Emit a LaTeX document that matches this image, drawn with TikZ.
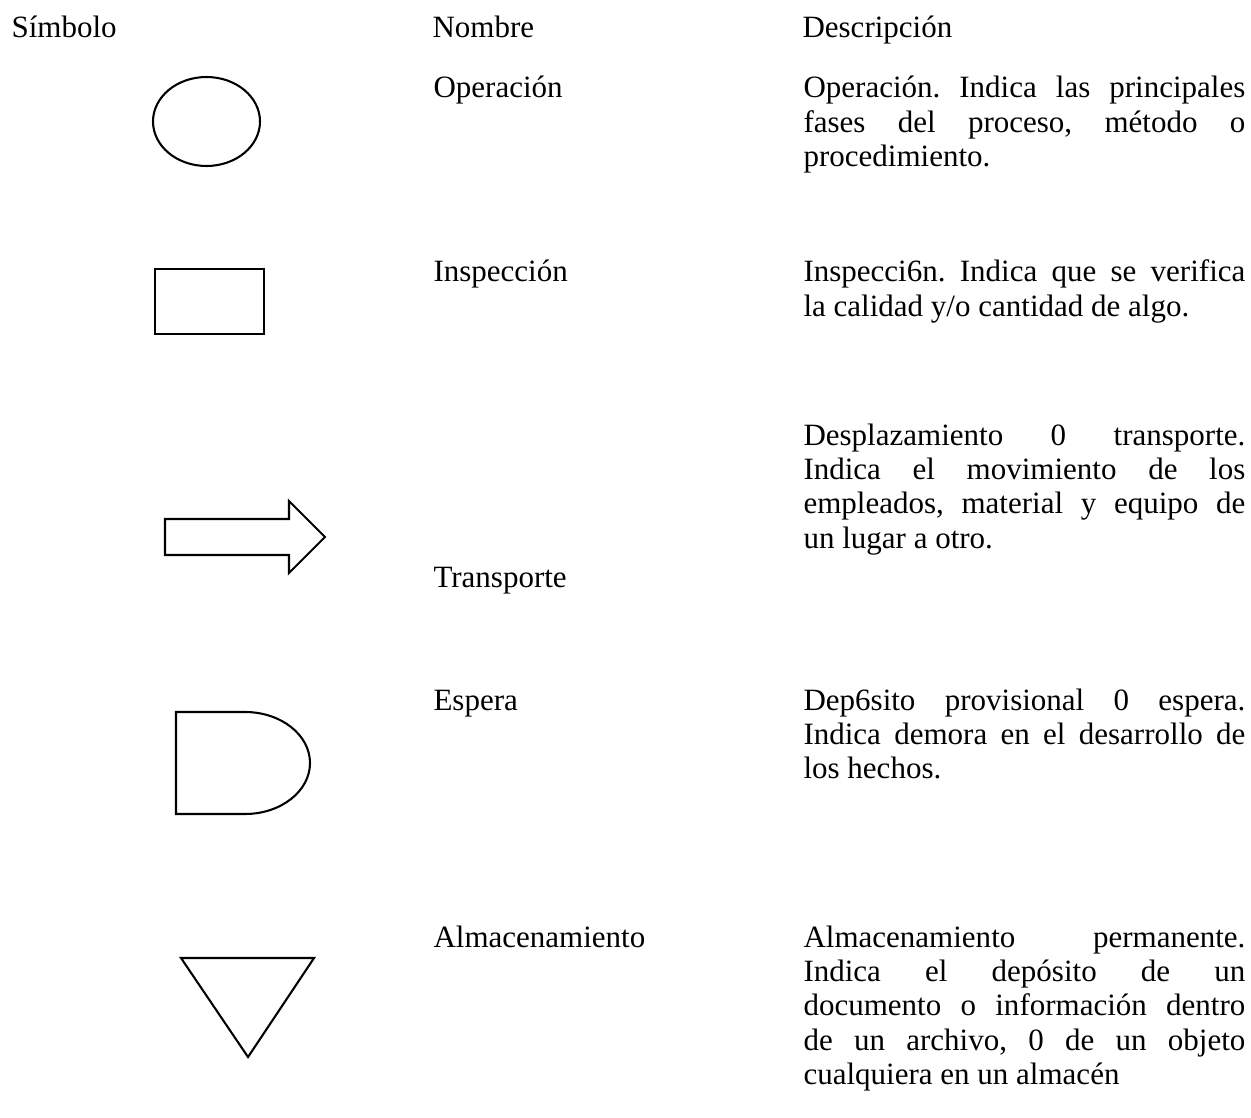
\documentclass[tikz,border=0pt]{standalone}
\usepackage{fontspec}
\setmainfont{Liberation Serif}
\usepackage{tikz}
\tolerance=10000
\hbadness=10000
\frenchspacing

\begin{document}
\begin{tikzpicture}[
  x=0.387pt, y=0.387pt,
  txt/.style={anchor=base west, inner sep=0pt, font=\fontsize{12pt}{13.35pt}\selectfont},
  desc/.style={txt, text width=171pt, align=justify},
  sym/.style={draw, line width=0.8pt}
]
\useasboundingbox (0,0) rectangle (1251,-1118);

% --- Column headers ---
\node[txt] (hsym) at (11,-38) {Símbolo};
\node[txt] (hname) at (432,-38) {Nombre};
\node[txt] (hdesc) at (802,-38) {Descripción};

% --- Operacion ---
\draw[sym] (206.5,-121.5) ellipse [x radius=53.5, y radius=44.5];
\node[txt] (nop) at (433,-98) {Operación};
\node[desc] (dop) at (803,-98) {Operación. Indica las principales\linebreak fases del proceso, método o\linebreak procedimiento.};

% --- Inspeccion ---
\draw[sym] (155,-269) rectangle (264,-334);
\node[txt] (nins) at (433,-282) {Inspección};
\node[desc] (dins) at (803,-282) {Inspecci6n. Indica que se verifica\linebreak la calidad y/o cantidad de algo.};

% --- Transporte ---
\draw[sym] (165,-519) -- (289,-519) -- (289,-501) -- (325,-537) -- (289,-573) -- (289,-555) -- (165,-555) -- cycle;
\node[txt] (ntra) at (433,-587) {Transporte};
\node[desc] (dtra) at (803,-445) {Desplazamiento 0 transporte.\linebreak Indica el movimiento de los\linebreak empleados, material y equipo de\linebreak un lugar a otro.};

% --- Espera ---
\draw[sym] (176,-814) -- (176,-712) -- (245,-712) arc[start angle=90, end angle=-90, x radius=65, y radius=51] -- cycle;
\node[txt] (nesp) at (433,-710) {Espera};
\node[desc] (desp) at (803,-710) {Dep6sito provisional 0 espera.\linebreak Indica demora en el desarrollo de\linebreak los hechos.};

% --- Almacenamiento ---
\draw[sym] (181,-958) -- (314,-958) -- (248,-1057) -- cycle;
\node[txt] (nalm) at (433,-947) {Almacenamiento};
\node[desc] (dalm) at (803,-947) {Almacenamiento permanente.\linebreak Indica el depósito de un\linebreak documento o información dentro\linebreak de un archivo, 0 de un objeto\linebreak cualquiera en un almacén};

\end{tikzpicture}
\end{document}
